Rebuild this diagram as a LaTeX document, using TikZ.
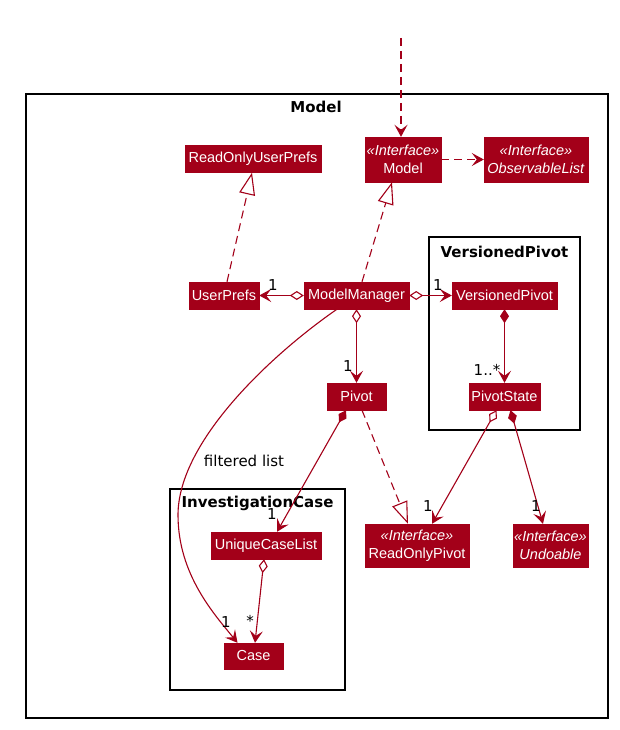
\documentclass[tikz,border=0pt]{standalone}
\usepackage{fontspec}
\setmainfont{Liberation Sans}
\newfontfamily\titlefont{DejaVu Sans}
\usetikzlibrary{arrows.meta,calc}
\definecolor{umlred}{RGB}{163,0,25}
\tikzset{
  umlchev/.tip={Stealth[length=12pt,width=13pt,inset=5pt]},
  odia/.tip={Diamond[fill=white,length=14pt,width=9pt]},
  fdia/.tip={Diamond[length=14pt,width=9pt]},
  otri/.tip={Triangle[fill=white,length=22pt,width=16pt]},
}
\begin{document}
\begin{tikzpicture}[x=1pt,y=-1pt,
  cls/.style={fill=umlred, draw=umlred, text=white, inner sep=0pt,
    minimum height=27pt, font=\fontsize{14.5}{18}\selectfont, align=center},
  frm/.style={draw=black, line width=1.5pt},
  ftitle/.style={font=\titlefont\bfseries\fontsize{15}{17}\selectfont, inner sep=0pt},
  conn/.style={draw=umlred, line width=1.1pt},
  dconn/.style={conn, dash pattern=on 8pt off 5pt},
  mult/.style={font=\titlefont\fontsize{15}{17}\selectfont, inner sep=0pt, text=black},
]
\useasboundingbox (0,0) rectangle (620,730);
\fill[white] (0,0) rectangle (620,730);

% frames
\draw[frm] (26,94) rectangle (608,718);
\node[ftitle] (tmodel) at (316,107) {Model};
\draw[frm] (429,237) rectangle (580,430);
\node[ftitle] (tvp) at (504.5,252) {VersionedPivot};
\draw[frm] (170,489) rectangle (345,690);
\node[ftitle] (tic) at (257.5,503) {InvestigationCase};

% classes
\node[cls, minimum width=136pt] (roup) at (253,159) {ReadOnlyUserPrefs};
\node[cls, minimum width=76pt, minimum height=45pt] (model) at (403,159.5) {\textit{«Interface»}\\Model};
\node[cls, minimum width=104pt, minimum height=45pt] (obs) at (536,159.5) {\textit{«Interface»}\\\textit{ObservableList}};
\node[cls, minimum width=70pt] (upref) at (224,295.5) {UserPrefs};
\node[cls, minimum width=105pt] (mm) at (356.5,295.5) {ModelManager};
\node[cls, minimum width=105pt] (vp) at (504.5,295.5) {VersionedPivot};
\node[cls, minimum width=71pt] (ps) at (504.5,396.5) {PivotState};
\node[cls, minimum width=59pt] (pivot) at (356.5,396.5) {Pivot};
\node[cls, minimum width=110pt] (ucl) at (266,545.5) {UniqueCaseList};
\node[cls, minimum width=59pt, minimum height=26pt] (case) at (253.5,656) {Case};
\node[cls, minimum width=104pt, minimum height=43pt] (rop) at (417,545.5) {\textit{«Interface»}\\ReadOnlyPivot};
\node[cls, minimum width=75pt, minimum height=43pt] (undo) at (550.5,545.5) {\textit{«Interface»}\\\textit{Undoable}};

% connectors
\coordinate (topend) at (401,38);
\draw[dconn, -umlchev] (topend) -- ([xshift=-2pt]model.north);
\draw[dconn, -umlchev] (model.east) -- (obs.west);
\draw[dconn, -otri] ([xshift=3pt]upref.north) -- ([xshift=-1pt]roup.south);
\draw[dconn, -otri] ([xshift=5.5pt]mm.north) -- ([xshift=-11pt]model.south);
\draw[conn, odia-umlchev] (mm.west) -- (upref.east);
\draw[conn, odia-umlchev] (mm.east) -- (vp.west);
\draw[conn, odia-umlchev] (mm.south) -- (pivot.north);
\draw[conn, fdia-umlchev] (vp.south) -- (ps.north);
\draw[conn, fdia-umlchev] ([xshift=-10.5pt]pivot.south) -- ([xshift=11pt]ucl.north);
\draw[dconn, -otri] ([xshift=5.5pt]pivot.south) -- ([xshift=-9pt]rop.north);
\draw[conn, odia-umlchev] ([xshift=-8pt]ps.south) -- ([xshift=15pt]rop.north);
\draw[conn, fdia-umlchev] ([xshift=6pt]ps.south) -- ([xshift=-7.5pt]undo.north);
\draw[conn, odia-umlchev] ([xshift=-2pt]ucl.south) -- ([xshift=1.5pt]case.north);
\coordinate (flmid) at (178,515);
\draw[conn, -umlchev] ([xshift=-19.5pt]mm.south) .. controls (275,352) and (178,440) .. (flmid)
  .. controls (178,575) and (215,615) .. ([xshift=-16pt]case.north);

% labels
\node[mult] (lfl) at (244,461) {filtered list};
\node[mult] (m1) at (273,285) {1};
\node[mult] (m2) at (438,285) {1};
\node[mult] (m3) at (348,366) {1};
\node[mult] (m4) at (487,370) {1..*};
\node[mult] (m5) at (272,514) {1};
\node[mult] (m6) at (428,506) {1};
\node[mult] (m7) at (536,506) {1};
\node[mult] (m8) at (226,622) {1};
\node[mult] (m9) at (250,621) {*};
\end{tikzpicture}
\end{document}
